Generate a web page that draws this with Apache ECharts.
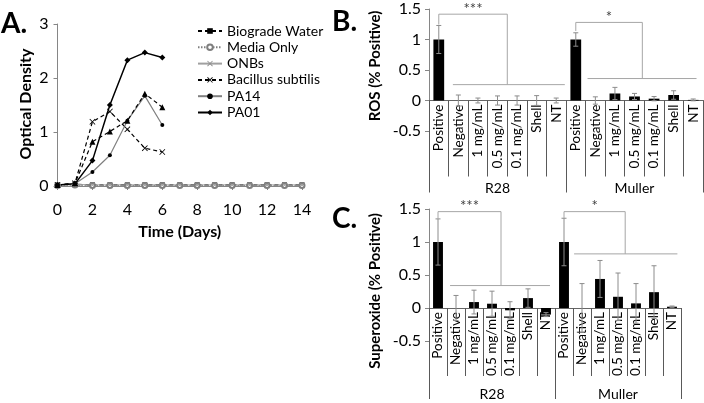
<!DOCTYPE html>
<html><head><meta charset="utf-8">
<script src="https://cdn.jsdelivr.net/npm/echarts@6/dist/echarts.min.js"></script>
<style>html,body{margin:0;padding:0;background:#fff}#c{width:704px;height:403px}</style>
</head><body><div id="c"></div>
<script>
// ---------- Panel A data ----------
const days = [0,1,2,3,4,5,6,7,8,9,10,11,12,13,14];
const growthDays = [0,1,2,3,4,5,6];
const biogradeWater = [0.02,0.03,0.02,0.02,0.02,0.02,0.02,0.02,0.02,0.02,0.02,0.02,0.02,0.02,0.02];
const mediaOnly = [0.01,0.02,0.01,0.01,0.01,0.01,0.01,0.01,0.01,0.01,0.01,0.01,0.01,0.01,0.01];
const onbs = [0.02,0.03,0.02,0.02,0.02,0.02,0.02,0.02,0.02,0.02,0.02,0.02,0.02,0.02,0.02];
const bacillusSubtilis = [0.02,0.05,1.19,1.38,1.05,0.70,0.63];
const pa14 = [0.02,0.04,0.26,0.57,1.21,1.67,1.13];
const pa01 = [0.02,0.04,0.47,1.50,2.33,2.47,2.38];
const triangleSeries = [0.02,0.05,0.82,1.01,1.21,1.71,1.46];
const aYTicks = [0,1,2,3];
const aXTicks = [0,2,4,6,8,10,12,14];

// ---------- Panels B / C data ----------
const categories = ['Positive','Negative','1 mg/mL','0.5 mg/mL','0.1 mg/mL','Shell','NT',
                    'Positive','Negative','1 mg/mL','0.5 mg/mL','0.1 mg/mL','Shell','NT'];
const groups = ['R28','Muller'];
const rosMean = [1.0,0,0,0,0,0,0, 1.0,0,0.115,0.066,0.03,0.09,0.01];
const rosErr  = [0.23,0.09,0.04,0.075,0.075,0.08,0.04, 0.11,0.06,0.10,0.05,0.035,0.07,0.015];
const supMean = [1.0,0,0.09,0.065,-0.035,0.15,-0.10, 1.0,0,0.44,0.17,0.07,0.24,0.02];
const supErr  = [0.35,0.19,0.18,0.19,0.13,0.14,0.03, 0.36,0.37,0.28,0.36,0.30,0.40,0.01];
const yTicksBC = [-0.5,0,0.5,1,1.5];

// significance brackets (category-index / value units)
const rosBracketLabels = ['***','*'];
const rosBracketFrom = [0, 7];
const rosBracketTo = [3.5, 10.4];
const rosBracketTop = [1.415, 1.28];
const rosBracketLeftEnd = [1.245, 1.14];
const rosBracketLineY = [0.26, 0.36];
const rosBracketLineFrom = [0.72, 7.6];
const rosBracketLineTo = [6.44, 13.17];

const supBracketLabels = ['***','*'];
const supBracketFrom = [0, 7];
const supBracketTo = [3.5, 10.4];
const supBracketTop = [1.46, 1.46];
const supBracketLeftEnd = [1.35, 1.36];
const supBracketLineY = [0.34, 0.82];
const supBracketLineFrom = [0.67, 7.56];
const supBracketLineTo = [6.22, 13.3];

const FONT = 'Lato';
const xShape = 'path://M0,1L1,0L5,4L9,0L10,1L6,5L10,9L9,10L5,6L1,10L0,9L4,5Z';

// grid layout
const gridB = {left:429, top:9, width:274, height:122};
const gridC = {left:429, top:209, width:252, height:132};
const yMin = yTicksBC[0], yMax = yTicksBC[yTicksBC.length-1];
// distance from grid bottom up to the zero line
function zeroOffset(g){ return -g.height * (0 - yMin) / (yMax - yMin); }

function pairs(xs, ys){ return ys.map((v,i)=>[xs[i], v]); }

function errorSeries(xi, yi, mean, err){
  return {
    type:'custom', xAxisIndex:xi, yAxisIndex:yi, clip:false, silent:true, z:4,
    data: mean.map((m,i)=>[i, m-err[i], m+err[i]]),
    encode:{x:0, y:[1,2]},
    renderItem(params, api){
      const lo = api.coord([api.value(0), api.value(1)]);
      const hi = api.coord([api.value(0), api.value(2)]);
      const w = 2.5, st = {stroke:'#8c8c8c', lineWidth:1};
      return {type:'group', children:[
        {type:'line', shape:{x1:hi[0],y1:hi[1],x2:lo[0],y2:lo[1]}, style:st},
        {type:'line', shape:{x1:hi[0]-w,y1:hi[1],x2:hi[0]+w,y2:hi[1]}, style:st},
        {type:'line', shape:{x1:lo[0]-w,y1:lo[1],x2:lo[0]+w,y2:lo[1]}, style:st}
      ]};
    }
  };
}

function bracketSeries(xi, yi, labels, from, to, top, leftEnd, lineY, lineFrom, lineTo){
  return {
    type:'custom', xAxisIndex:xi, yAxisIndex:yi, clip:false, silent:true, z:5,
    data: labels.map((l,i)=>[i, 0]),
    renderItem(params, api){
      const i = params.dataIndex;
      const p0 = api.coord([0, 0]), p1 = api.coord([1, 0]);
      const step = p1[0]-p0[0];
      const X = v => p0[0] + v*step;
      const Y = v => api.coord([0, v])[1];
      const st = {stroke:'#a6a6a6', lineWidth:1, fill:null};
      return {type:'group', children:[
        {type:'polyline', shape:{points:[[X(from[i]),Y(leftEnd[i])],[X(from[i]),Y(top[i])],[X(to[i]),Y(top[i])],[X(to[i]),Y(lineY[i])]]}, style:st},
        {type:'line', shape:{x1:X(lineFrom[i]),y1:Y(lineY[i]),x2:X(lineTo[i]),y2:Y(lineY[i])}, style:{stroke:'#a6a6a6', lineWidth:1}},
        {type:'text', x:(X(from[i])+X(to[i]))/2, y:Y(top[i])+2,
          style:{text:labels[i], align:'center', verticalAlign:'bottom', fontSize:15, fontFamily:FONT, fill:'#404040'}}
      ]};
    }
  };
}

function catAxis(gi, g, tickLen){
  return {
    type:'category', gridIndex:gi, data:categories, position:'bottom', boundaryGap:true,
    offset:zeroOffset(g),
    axisLine:{onZero:false, lineStyle:{color:'#666', width:1}},
    axisTick:{show:true, interval:0, length:tickLen, lineStyle:{color:'#595959'}},
    axisLabel:{interval:0, rotate:90, margin:4, fontSize:13.5, fontFamily:FONT, color:'#000'},
    splitLine:{show:false}
  };
}
function groupAxis(gi, g, tickLen, labelMargin){
  return {
    type:'category', gridIndex:gi, data:groups, position:'bottom', boundaryGap:true,
    offset:zeroOffset(g),
    axisLine:{onZero:false, lineStyle:{color:'#666', width:1}},
    axisTick:{show:true, interval:0, length:tickLen, lineStyle:{color:'#595959'}},
    axisLabel:{interval:0, margin:labelMargin, fontSize:14, fontFamily:FONT, color:'#000'},
    splitLine:{show:false}
  };
}
function valAxisBC(gi){
  return {
    type:'value', gridIndex:gi, min:yMin, max:yMax, interval:0.5,
    axisLine:{show:true, lineStyle:{color:'#868686'}},
    axisTick:{show:true, length:4, lineStyle:{color:'#868686'}},
    axisLabel:{margin:8, fontSize:16, fontFamily:FONT, color:'#000'},
    splitLine:{show:false}
  };
}

const chart = echarts.init(document.getElementById('c'), null, {renderer:'canvas'});
const option = {
  animation:false,
  backgroundColor:'#fff',
  textStyle:{fontFamily:FONT},
  grid:[
    {left:57.5, top:24, width:244.5, height:162},
    gridB,
    gridC
  ],
  legend:{
    data:['Biograde Water','Media Only','ONBs','Bacillus subtilis','PA14','PA01'],
    orient:'vertical', left:192, top:19, itemWidth:24, itemHeight:7, itemGap:2.3,
    textStyle:{fontSize:14, fontFamily:FONT, color:'#000'}
  },
  xAxis:[
    {type:'value', gridIndex:0, min:aXTicks[0], max:aXTicks[aXTicks.length-1], interval:2,
      name:'Time (Days)', nameLocation:'middle', nameGap:38,
      nameTextStyle:{fontSize:16, fontWeight:'bold', fontFamily:FONT, color:'#000'},
      axisLine:{lineStyle:{color:'#868686'}},
      axisTick:{show:true, length:4, lineStyle:{color:'#868686'}},
      axisLabel:{margin:16, fontSize:16, fontFamily:FONT, color:'#000'},
      splitLine:{show:false}},
    catAxis(1, gridB, 76),
    groupAxis(1, gridB, 92, 81),
    catAxis(2, gridC, 68),
    groupAxis(2, gridC, 91, 79)
  ],
  yAxis:[
    {type:'value', gridIndex:0, min:aYTicks[0], max:aYTicks[aYTicks.length-1], interval:1,
      axisLine:{show:true, lineStyle:{color:'#868686'}},
      axisTick:{show:true, length:4, lineStyle:{color:'#868686'}},
      axisLabel:{margin:9, fontSize:16, fontFamily:FONT, color:'#000'},
      splitLine:{show:false}},
    valAxisBC(1),
    valAxisBC(2)
  ],
  graphic:[
    {type:'text', left:1, top:10, style:{text:'A.', font:'bold 28px Lato', fill:'#000'}},
    {type:'text', left:332, top:8, style:{text:'B.', font:'bold 28px Lato', fill:'#000'}},
    {type:'text', left:332, top:205, style:{text:'C.', font:'bold 28px Lato', fill:'#000'}},
    {type:'text', x:26, y:104, rotation:Math.PI/2, style:{text:'Optical Density', align:'center', verticalAlign:'middle', font:'bold 16px Lato', fill:'#000'}},
    {type:'text', x:375, y:66, rotation:Math.PI/2, style:{text:'ROS (% Positive)', align:'center', verticalAlign:'middle', font:'bold 15px Lato', fill:'#000'}},
    {type:'text', x:375, y:291, rotation:Math.PI/2, style:{text:'Superoxide (% Positive)', align:'center', verticalAlign:'middle', font:'bold 15px Lato', fill:'#000'}}
  ],
  series:[
    {name:'Biograde Water', type:'line', xAxisIndex:0, yAxisIndex:0, data:pairs(days, biogradeWater),
      symbol:'rect', symbolSize:5, lineStyle:{color:'#000', width:1.3, type:[4,3]}, itemStyle:{color:'#000'}},
    {name:'Media Only', type:'line', xAxisIndex:0, yAxisIndex:0, data:pairs(days, mediaOnly),
      symbol:'emptyCircle', symbolSize:5, lineStyle:{color:'#7f7f7f', width:1.2, type:[1.5,1.5]}, itemStyle:{color:'#7f7f7f', borderColor:'#7f7f7f'}},
    {name:'ONBs', type:'line', xAxisIndex:0, yAxisIndex:0, data:pairs(days, onbs),
      symbol:xShape, symbolSize:5, lineStyle:{color:'#a0a0a0', width:1}, itemStyle:{color:'#8c8c8c'}},
    {name:'Bacillus subtilis', type:'line', xAxisIndex:0, yAxisIndex:0, data:pairs(growthDays, bacillusSubtilis),
      symbol:xShape, symbolSize:6, lineStyle:{color:'#000', width:1.2, type:[4,3]}, itemStyle:{color:'#000'}},
    {name:'PA14', type:'line', xAxisIndex:0, yAxisIndex:0, data:pairs(growthDays, pa14),
      symbol:'circle', symbolSize:4, lineStyle:{color:'#808080', width:1.2}, itemStyle:{color:'#000'}},
    {name:'PA01', type:'line', xAxisIndex:0, yAxisIndex:0, data:pairs(growthDays, pa01),
      symbol:'diamond', symbolSize:6, lineStyle:{color:'#000', width:1.5}, itemStyle:{color:'#000'}},
    {name:'unlabeled', type:'line', xAxisIndex:0, yAxisIndex:0, data:pairs(growthDays, triangleSeries),
      symbol:'triangle', symbolSize:6, lineStyle:{color:'#000', width:1.2, type:[4,3]}, itemStyle:{color:'#000'}},

    {type:'bar', xAxisIndex:1, yAxisIndex:1, data:rosMean, barWidth:'55%', itemStyle:{color:'#000'}, silent:true},
    errorSeries(1, 1, rosMean, rosErr),
    bracketSeries(1, 1, rosBracketLabels, rosBracketFrom, rosBracketTo, rosBracketTop, rosBracketLeftEnd, rosBracketLineY, rosBracketLineFrom, rosBracketLineTo),

    {type:'bar', xAxisIndex:3, yAxisIndex:2, data:supMean, barWidth:'55%', itemStyle:{color:'#000'}, silent:true},
    errorSeries(3, 2, supMean, supErr),
    bracketSeries(3, 2, supBracketLabels, supBracketFrom, supBracketTo, supBracketTop, supBracketLeftEnd, supBracketLineY, supBracketLineFrom, supBracketLineTo)
  ]
};
chart.setOption(option);
</script>
</body></html>
